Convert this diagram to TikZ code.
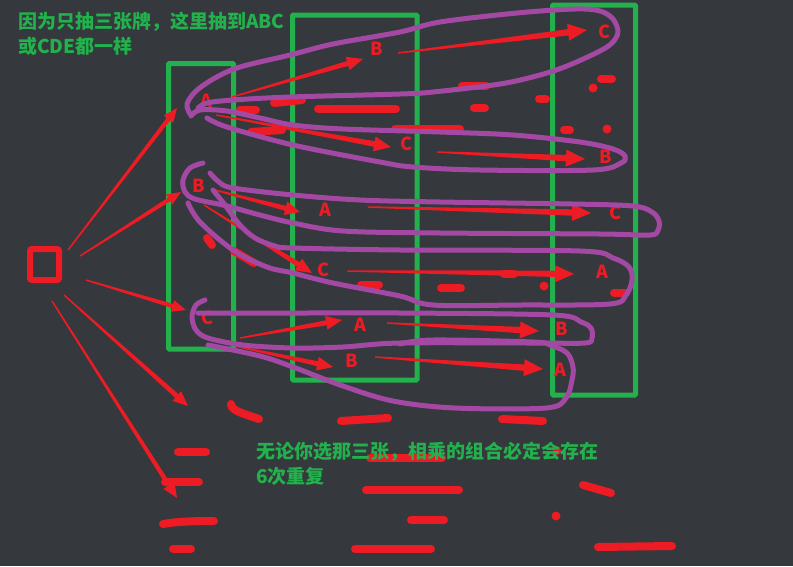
\documentclass[tikz,border=0pt]{standalone}
\usepackage{fontspec}
\usetikzlibrary{calc}
\newfontfamily\cjk{Noto Sans CJK SC}
\definecolor{bg}{RGB}{53,56,60}
\definecolor{pred}{RGB}{237,28,36}
\definecolor{pgreen}{RGB}{34,177,76}
\definecolor{ppurple}{RGB}{163,73,164}
% tapered hand-drawn arrow: start, end, head length, head half width, shaft half width at head
\newcommand\tarrow[5]{%
  \coordinate (hb) at ($(#2)!#3pt!(#1)$);
  \fill[pred] ($(#1)!0.7pt!90:(#2)$) -- ($(hb)!#5pt!90:(#2)$) -- ($(hb)!#4pt!90:(#2)$) -- (#2)
    -- ($(hb)!#4pt!-90:(#2)$) -- ($(hb)!#5pt!-90:(#2)$) -- ($(#1)!0.7pt!-90:(#2)$) -- cycle;}
\tikzset{
  letter/.style={text=pred, font=\cjk\bfseries\fontsize{18}{20}\selectfont, inner sep=0pt},
  note/.style={text=pgreen, font=\cjk\bfseries\fontsize{19}{24}\selectfont, inner sep=0pt, anchor=base west},
  reddash/.style={pred, line width=8pt, line cap=round},
  loopline/.style={ppurple, line width=5pt, line cap=round, line join=round},
  boxline/.style={pgreen, line width=5pt, rounded corners=1pt},
}
\begin{document}
\begin{tikzpicture}[x=1pt,y=-1pt]
\useasboundingbox (0,0) rectangle (793,566);
\fill[bg] (0,0) rectangle (793,566);

% green boxes
\draw[boxline] (168.5,63.5) rectangle (233.5,349);
\draw[boxline] (292.5,15) rectangle (417,380);
\draw[boxline] (552.5,5) rectangle (635.5,395);

% start square
\node[draw=pred, line width=6pt, rounded corners=2pt, minimum width=29pt, minimum height=31pt, inner sep=0pt] (sq) at (44.5,264.5) {};

% red scribble dashes
\draw[reddash] (462,86) -- (486,86);
\draw[reddash] (474,108) -- (485,108);
\draw[reddash] (539,99) -- (546,99);
\draw[reddash] (601,79) -- (612,79);
\fill[pred] (593,88) circle (4.5);
\draw[reddash] (564,130) -- (570,130);
\fill[pred] (607,129) circle (4.5);
\draw[reddash] (318,109) -- (396,109);
\draw[reddash] (395,129) -- (460,129);
\draw[reddash] (274,103) -- (302,100);
\draw[reddash] (240,110) -- (256,110);
\draw[reddash] (251,132) -- (282,130);
\draw[reddash] (207,238) -- (212,245);
\draw[reddash] (234,251) -- (254,263);
\draw[reddash] (361,285) -- (379,285);
\draw[reddash] (441,288) -- (461,288);
\draw[reddash] (504,274) -- (514,274);
\fill[pred] (544,286) circle (4.5);
\draw[reddash] (614,293) -- (626,293);
\draw[reddash] (231,404) .. controls (231,411) and (245,414) .. (259,419);
\draw[reddash] (341,421) -- (388,418);
\draw[reddash] (502,419) -- (543,421);
\draw[reddash] (178,452) -- (206,452);
\draw[reddash] (165,482) -- (199,482);
\draw[reddash] (370,458) -- (442,458);
\fill[pred] (557,451) circle (4);
\draw[reddash] (366,490) -- (459,490);
\draw[reddash] (583,485) -- (611,493);
\draw[reddash] (163,524) .. controls (180,521) and (200,521) .. (214,521);
\draw[reddash] (411,520) -- (444,520);
\fill[pred] (556,516) circle (4.5);
\draw[reddash] (173,549) -- (191,549);
\draw[reddash] (355,549) -- (431,549);
\draw[reddash] (598,547) -- (672,546);

% arrow end points
\coordinate (q1) at (68,250);  \coordinate (t1) at (177,108);
\coordinate (q2) at (80,256);  \coordinate (t2) at (181,192);
\coordinate (q3) at (86,280);  \coordinate (t3) at (186,310);
\coordinate (q4) at (64,295);  \coordinate (t4) at (188,406);
\coordinate (q5) at (52,301);  \coordinate (t5) at (177,498);
\coordinate (ab0) at (232,97);  \coordinate (ab1) at (363,59);
\coordinate (ac0) at (216,115); \coordinate (ac1) at (391,147);
\coordinate (ba0) at (211,189); \coordinate (ba1) at (300,212);
\coordinate (bc0) at (204,205); \coordinate (bc1) at (312,273);
\coordinate (ca0) at (240,338); \coordinate (ca1) at (342,320);
\coordinate (cb0) at (235,346); \coordinate (cb1) at (333,367);
\coordinate (x10) at (398,53);  \coordinate (x11) at (587,30);
\coordinate (x20) at (437,152); \coordinate (x21) at (585,159);
\coordinate (x30) at (368,207); \coordinate (x31) at (591,213);
\coordinate (x40) at (347,271); \coordinate (x41) at (574,274);
\coordinate (x50) at (387,323); \coordinate (x51) at (539,331);
\coordinate (x60) at (375,357); \coordinate (x61) at (543,369);

\tarrow{q1}{t1}{14}{6}{2.2}
\tarrow{q2}{t2}{14}{6}{2.2}
\tarrow{q3}{t3}{14}{6}{2.2}
\tarrow{q4}{t4}{15}{6.5}{2.5}
\tarrow{q5}{t5}{15}{6.5}{2.3}
\tarrow{ab0}{ab1}{16}{7}{2.5}
\tarrow{ac0}{ac1}{17}{7.5}{2.8}
\tarrow{ba0}{ba1}{15}{7}{2.5}
\tarrow{bc0}{bc1}{16}{7}{2.5}
\tarrow{ca0}{ca1}{16}{7}{2.5}
\tarrow{cb0}{cb1}{16}{7}{2.5}
\tarrow{x10}{x11}{19}{8.5}{3.2}
\tarrow{x20}{x21}{19}{8.5}{3.2}
\tarrow{x30}{x31}{19}{8.5}{3.2}
\tarrow{x40}{x41}{19}{8.5}{3.2}
\tarrow{x50}{x51}{19}{8.5}{3.2}
\tarrow{x60}{x61}{19}{8.5}{3.2}

% letters
\node[letter] (a1) at (206,101) {A};
\node[letter] (b1) at (199,186) {B};
\node[letter] (c1) at (208,318) {C};
\node[letter] (b2a) at (377,49) {B};
\node[letter] (c2a) at (406,144) {C};
\node[letter] (a2b) at (325,210) {A};
\node[letter] (c2b) at (324,270) {C};
\node[letter] (a2c) at (360,325) {A};
\node[letter] (b2c) at (352,361) {B};
\node[letter] (c3a) at (604,32) {C};
\node[letter] (b3a) at (606,157) {B};
\node[letter] (c3b) at (615,213) {C};
\node[letter] (a3b) at (602,272) {A};
\node[letter] (b3c) at (562,329) {B};
\node[letter] (a3c) at (560,370) {A};

% purple loops
\draw[loopline] plot[smooth, tension=0.55] coordinates {(190,114) (187,104) (196,91) (215,78) (240,67) (290,55) (333,44) (400,32) (440,22) (517,13) (575,9) (600,11) (613,19) (618,32) (612,43) (598,52) (567,66) (540,75) (500,84) (433,92) (400,94) (290,97) (233,100) (207,103) (198,108)};
\draw[loopline] plot[smooth, tension=0.55] coordinates {(191,116) (200,110) (227,111) (260,118) (293,125) (343,129) (440,132) (513,135) (580,142) (613,149) (625,156) (621,163) (593,170) (480,170) (413,167) (380,162) (293,145) (227,127) (207,118)};
\draw[loopline] plot[smooth, tension=0.55] coordinates {(203,163) (190,168) (183,180) (185,192) (195,199) (227,206) (260,215) (293,223) (343,231) (440,233) (600,234) (650,235) (658,230) (659,221) (652,212) (633,206) (573,204) (440,202) (360,200) (293,195) (233,188) (219,182) (210,173)};
\draw[loopline] plot[smooth, tension=0.55] coordinates {(213,190) (225,205) (240,225) (255,238) (275,246) (293,248) (400,250) (580,251) (613,258) (629,267) (632,280) (626,295) (610,304) (520,305) (433,305) (400,296) (333,283) (293,273) (267,267) (233,250) (200,222) (188,203)};
\draw[loopline] plot[smooth, tension=0.55] coordinates {(205,300) (196,305) (192,317) (196,330) (208,338) (243,345) (293,348) (343,347) (400,343) (533,343) (585,343) (592,338) (591,328) (581,322) (553,315) (400,313) (300,313) (198,313)};
\draw[loopline] plot[smooth, tension=0.55] coordinates {(208,345) (260,356) (293,367) (343,386) (393,401) (455,408) (546,408) (566,398) (572,380) (573,367) (567,353) (550,345) (533,342) (433,340) (400,344)};

% notes
\node[note] (n1) at (18,28) {因为只抽三张牌，这里抽到ABC};
\node[note] (n2) at (18,53) {或CDE都一样};
\node[note] (n3) at (256,458) {无论你选那三张，相乘的组合必定会存在};
\node[note] (n4) at (256,483) {6次重复};
\end{tikzpicture}
\end{document}
